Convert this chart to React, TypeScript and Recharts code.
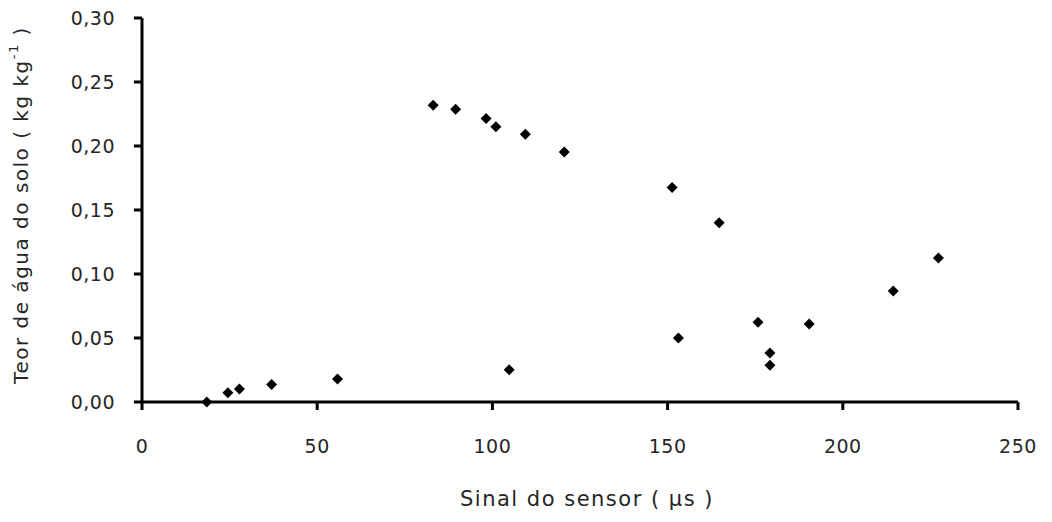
import React from 'react';
import { ScatterChart, Scatter, XAxis, YAxis } from 'recharts';

// leituras do sensor (µs) e teor de água (kg kg-1)
const sinal = [
  18.5, 24.5, 27.8, 37.0, 55.8, 83.1, 89.5, 98.2, 101.0, 109.4, 120.5,
  104.8, 151.3, 153.1, 164.7, 175.8, 179.2, 179.2, 190.4, 214.4, 227.3,
];
const teor = [
  0.0, 0.0073, 0.0102, 0.0136, 0.018, 0.2318, 0.2287, 0.2214, 0.215, 0.2091, 0.1953,
  0.0252, 0.1675, 0.050, 0.140, 0.0623, 0.0383, 0.0287, 0.061, 0.0867, 0.1125,
];
const xTicks = [0, 50, 100, 150, 200, 250];
const yTicks = [0, 0.05, 0.1, 0.15, 0.2, 0.25, 0.3];

const data = sinal.map((s, i) => ({ x: s, y: teor[i] }));

const FONT = '"DejaVu Sans", Verdana, sans-serif';
const TXT = '#262626';

const Diamond = (props: any) => {
  const { cx, cy } = props;
  const r = 5.5;
  return (
    <polygon
      points={`${cx},${cy - r} ${cx + r},${cy} ${cx},${cy + r} ${cx - r},${cy}`}
      fill="#000"
    />
  );
};

const YTitle = () => (
  <text
    x={21}
    y={205}
    transform="rotate(-90 21 205)"
    textAnchor="middle"
    dominantBaseline="central"
    fill={TXT}
    fontFamily={FONT}
    fontSize={20}
    letterSpacing={1.5}
  >
    Teor de água do solo ( kg kg
    <tspan dy={-8} fontSize={13}>-1</tspan>
    <tspan dy={8}> )</tspan>
  </text>
);

export default function App() {
  return (
    <div style={{ position: 'absolute', left: 0, top: 0, background: '#fff' }}>
      <ScatterChart
        width={1052}
        height={522}
        margin={{ top: 18, right: 34, left: 0, bottom: 0 }}
      >
        <XAxis
          type="number"
          dataKey="x"
          domain={[0, 250]}
          ticks={xTicks}
          height={120}
          axisLine={{ stroke: '#000', strokeWidth: 3 }}
          tickLine={{ stroke: '#000', strokeWidth: 3 }}
          tickSize={8}
          tickMargin={30}
          tick={{ fill: TXT, fontFamily: FONT, fontSize: 19, letterSpacing: 0.5 }}
          label={{
            value: 'Sinal do sensor ( µs )',
            position: 'insideBottom',
            offset: 16,
            dx: 7,
            fill: TXT,
            fontFamily: FONT,
            fontSize: 21,
            letterSpacing: 1.5,
          }}
        />
        <YAxis
          type="number"
          dataKey="y"
          domain={[0, 0.3]}
          ticks={yTicks}
          width={142}
          axisLine={{ stroke: '#000', strokeWidth: 3 }}
          tickLine={{ stroke: '#000', strokeWidth: 3 }}
          tickSize={8}
          tickMargin={19}
          tickFormatter={(v: number) => v.toFixed(2).replace('.', ',')}
          tick={{ fill: TXT, fontFamily: FONT, fontSize: 19, letterSpacing: 0.5 }}
          label={<YTitle />}
        />
        <Scatter data={data} shape={<Diamond />} isAnimationActive={false} />
      </ScatterChart>
    </div>
  );
}
